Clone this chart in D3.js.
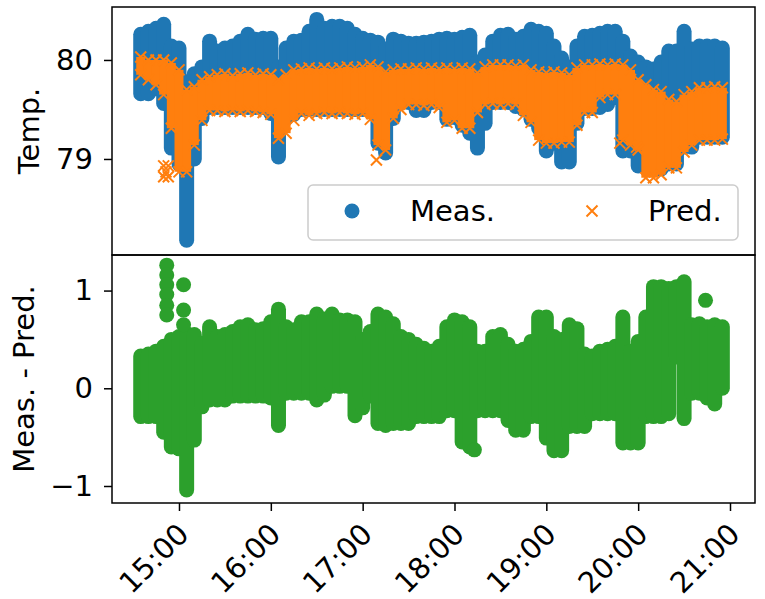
<!DOCTYPE html>
<html><head><meta charset="utf-8">
<script src="https://cdn.jsdelivr.net/npm/d3@7"></script>
<style>body{margin:0;background:#fff}</style>
</head><body>
<svg id="chart" width="765" height="599"></svg>
<script>
// ---- data (5-minute buckets: envelope of the dense scatter clouds) ----
const times = ["14:35","14:40","14:45","14:50","14:55","15:00","15:05","15:10","15:15","15:20",
"15:25","15:30","15:35","15:40","15:45","15:50","15:55","16:00","16:05","16:10",
"16:15","16:20","16:25","16:30","16:35","16:40","16:45","16:50","16:55","17:00",
"17:05","17:10","17:15","17:20","17:25","17:30","17:35","17:40","17:45","17:50",
"17:55","18:00","18:05","18:10","18:15","18:20","18:25","18:30","18:35","18:40",
"18:45","18:50","18:55","19:00","19:05","19:10","19:15","19:20","19:25","19:30",
"19:35","19:40","19:45","19:50","19:55","20:00","20:05","20:10","20:15","20:20",
"20:25","20:30","20:35","20:40","20:45","20:50","20:55"];

const measHigh = [80.26,80.29,80.32,80.36,80.14,80.12,79.78,79.86,79.93,80.19,
80.09,80.12,80.14,80.19,80.26,80.21,80.22,80.22,79.93,80.12,
80.19,80.20,80.29,80.41,80.32,80.34,80.34,80.32,80.26,80.22,
80.20,80.18,80.11,80.21,80.19,80.17,80.17,80.18,80.19,80.21,
80.22,80.21,80.23,80.25,79.98,80.05,80.19,80.25,80.26,80.21,
80.24,80.31,80.29,80.27,80.14,80.02,79.93,80.14,80.24,80.25,
80.27,80.29,80.29,80.19,80.04,79.98,79.93,79.91,79.98,80.09,
80.09,80.29,80.11,80.14,80.14,80.14,80.12];

const measLow = [79.66,79.66,79.71,79.56,79.11,78.95,78.18,79.00,79.41,79.52,
79.52,79.52,79.52,79.52,79.52,79.52,79.52,79.46,79.02,79.41,
79.45,79.50,79.50,79.50,79.50,79.50,79.50,79.50,79.50,79.50,
79.50,79.16,79.06,79.41,79.57,79.57,79.49,79.49,79.57,79.57,
79.40,79.42,79.34,79.26,79.11,79.36,79.57,79.57,79.57,79.53,
79.50,79.40,79.31,79.08,79.16,78.97,78.97,79.36,79.51,79.51,
79.52,79.55,79.62,79.08,79.08,78.93,78.93,78.90,78.90,78.95,
78.95,79.12,79.12,79.22,79.22,79.22,79.22];

const predHigh = [80.03,80.00,80.00,80.00,79.97,79.90,79.70,79.73,79.80,79.83,
79.85,79.86,79.84,79.86,79.87,79.85,79.86,79.85,79.80,79.85,
79.90,79.91,79.92,79.91,79.92,79.91,79.92,79.93,79.92,79.93,
79.95,79.93,79.88,79.90,79.91,79.91,79.92,79.91,79.92,79.91,
79.92,79.91,79.92,79.91,79.87,79.93,79.95,79.95,79.95,79.94,
79.95,79.90,79.88,79.87,79.88,79.87,79.85,79.92,79.95,79.95,
79.96,79.95,79.96,79.95,79.90,79.80,79.75,79.70,79.68,79.60,
79.58,79.65,79.68,79.72,79.72,79.73,79.72];

const predLow = [79.85,79.80,79.75,79.65,79.31,78.87,78.87,79.14,79.39,79.49,
79.49,79.48,79.49,79.48,79.49,79.48,79.47,79.45,79.21,79.26,
79.39,79.46,79.44,79.46,79.47,79.46,79.47,79.46,79.45,79.46,
79.40,79.14,79.09,79.41,79.50,79.55,79.55,79.54,79.55,79.52,
79.37,79.39,79.31,79.31,79.47,79.55,79.56,79.55,79.56,79.55,
79.44,79.37,79.19,79.16,79.16,79.17,79.17,79.34,79.47,79.47,
79.62,79.65,79.65,79.19,79.14,79.09,78.81,78.81,78.84,78.91,
78.91,79.07,79.14,79.19,79.19,79.19,79.20];

const diffHigh = [0.33,0.35,0.38,0.43,0.50,0.53,0.56,0.55,0.46,0.63,
0.53,0.55,0.58,0.63,0.65,0.60,0.61,0.68,0.81,0.63,
0.60,0.68,0.68,0.76,0.71,0.76,0.70,0.70,0.68,0.50,
0.58,0.76,0.73,0.66,0.53,0.50,0.45,0.41,0.38,0.43,
0.63,0.70,0.68,0.63,0.38,0.38,0.53,0.55,0.45,0.38,
0.40,0.48,0.73,0.73,0.53,0.50,0.65,0.61,0.35,0.33,
0.38,0.40,0.43,0.73,0.38,0.48,0.73,1.04,1.04,1.02,
1.04,1.09,0.65,0.66,0.63,0.65,0.63];

const diffLow = [-0.29,-0.29,-0.29,-0.45,-0.60,-0.62,-1.04,-0.53,-0.19,-0.12,
-0.12,-0.12,-0.08,-0.08,-0.08,-0.08,-0.08,-0.10,-0.38,-0.05,
-0.05,-0.05,-0.05,-0.12,-0.07,0.02,0.02,0.02,-0.28,-0.20,
-0.08,-0.36,-0.38,-0.36,-0.36,-0.36,-0.29,-0.29,-0.29,-0.29,
-0.23,-0.23,-0.55,-0.60,-0.23,-0.23,-0.23,-0.23,-0.33,-0.43,
-0.43,-0.29,-0.29,-0.51,-0.64,-0.64,-0.39,-0.39,-0.39,-0.26,
-0.26,-0.26,-0.26,-0.56,-0.56,-0.56,-0.29,-0.29,-0.29,-0.26,
0.32,-0.31,-0.05,-0.05,-0.10,-0.16,0.00];

// isolated points outside the envelopes
const predOutlierTimes = ["14:50:00","14:50:00","14:53:00","14:53:00","14:51:30","17:09:00","19:48:00","19:59:00"];
const predOutlierValues = [78.93,78.82,78.93,78.82,78.87,78.99,79.16,79.12];
const diffOutlierTimes = ["14:52:00","14:52:00","14:52:00","14:52:00","14:52:00","14:52:00","15:03:00","15:03:00","15:03:00","18:13:00","20:44:00"];
const diffOutlierValues = [1.26,1.16,1.06,0.96,0.85,0.75,1.06,0.80,0.65,-0.63,0.90];

const xTickLabels = ["15:00","16:00","17:00","18:00","19:00","20:00","21:00"];
const yTopTicks = [79, 80];
const yBotTicks = [-1, 0, 1];
const seriesNames = ["Meas.", "Pred."];

// ---- layout ----
const parse = s => d3.timeParse(s.length > 5 ? "%H:%M:%S" : "%H:%M")(s);
const svg = d3.select("#chart");
const L = 112, R = 755, T1 = 7, B1 = 255, T2 = 255, B2 = 503;
const FONT = "DejaVu Sans, Liberation Sans, sans-serif";
const FS = 29;
const C_BLUE = "#1f77b4", C_ORANGE = "#ff7f0e", C_GREEN = "#2ca02c";
const MR = 7.5; // circle marker radius
const XS = 5.5; // x-marker half size

const x = d3.scaleTime().domain([parse("14:16:14"), parse("21:16:20")]).range([L, R]);
const yT = d3.scaleLinear().domain([78.03, 80.535]).range([B1, T1]);
const yB = d3.scaleLinear().domain([-1.174, 1.364]).range([B2, T2]);

const defs = svg.append("defs");
defs.append("clipPath").attr("id","clipT").append("rect").attr("x",L).attr("y",T1).attr("width",R-L).attr("height",B1-T1);
defs.append("clipPath").attr("id","clipB").append("rect").attr("x",L).attr("y",T2).attr("width",R-L).attr("height",B2-T2);

const tx = times.map(parse);
const xPath = (cx, cy) => `M${cx-XS},${cy-XS}L${cx+XS},${cy+XS}M${cx-XS},${cy+XS}L${cx+XS},${cy-XS}`;

// ---- top panel ----
const gT = svg.append("g").attr("clip-path","url(#clipT)");
gT.append("g").selectAll("line").data(times).join("line")
  .attr("x1",(d,i)=>x(tx[i])).attr("x2",(d,i)=>x(tx[i]))
  .attr("y1",(d,i)=>yT(measHigh[i])).attr("y2",(d,i)=>yT(measLow[i]))
  .attr("stroke",C_BLUE).attr("stroke-width",MR*2).attr("stroke-linecap","round");

const gP = gT.append("g");
gP.selectAll("line").data(times).join("line")
  .attr("x1",(d,i)=>x(tx[i])).attr("x2",(d,i)=>x(tx[i]))
  .attr("y1",(d,i)=>yT(predHigh[i])).attr("y2",(d,i)=>yT(predLow[i]))
  .attr("stroke",C_ORANGE).attr("stroke-width",9);
gP.selectAll("path.hi").data(times).join("path").attr("class","hi")
  .attr("d",(d,i)=>xPath(x(tx[i]), yT(predHigh[i])))
  .attr("stroke",C_ORANGE).attr("stroke-width",2).attr("fill","none");
gP.selectAll("path.lo").data(times).join("path").attr("class","lo")
  .attr("d",(d,i)=>xPath(x(tx[i]), yT(predLow[i])))
  .attr("stroke",C_ORANGE).attr("stroke-width",2).attr("fill","none");
gP.selectAll("path.out").data(predOutlierTimes).join("path").attr("class","out")
  .attr("d",(d,i)=>xPath(x(parse(d)), yT(predOutlierValues[i])))
  .attr("stroke",C_ORANGE).attr("stroke-width",2).attr("fill","none");

// ---- bottom panel ----
const gB = svg.append("g").attr("clip-path","url(#clipB)");
gB.append("g").selectAll("line").data(times).join("line")
  .attr("x1",(d,i)=>x(tx[i])).attr("x2",(d,i)=>x(tx[i]))
  .attr("y1",(d,i)=>yB(diffHigh[i])).attr("y2",(d,i)=>yB(diffLow[i]))
  .attr("stroke",C_GREEN).attr("stroke-width",MR*2).attr("stroke-linecap","round");
gB.append("g").selectAll("circle").data(diffOutlierTimes).join("circle")
  .attr("cx",d=>x(parse(d))).attr("cy",(d,i)=>yB(diffOutlierValues[i]))
  .attr("r",MR).attr("fill",C_GREEN);

// ---- axes ----
function styleAxis(g){
  g.select(".domain").remove();
  g.selectAll(".tick line").attr("stroke","#000").attr("stroke-width",1.5);
  g.selectAll(".tick text").attr("font-family",FONT).attr("font-size",FS).attr("fill","#000");
}
const fmtNum = d => d < 0 ? "\u2212" + Math.abs(d) : String(d);
svg.append("g").attr("transform",`translate(${L},0)`)
  .call(d3.axisLeft(yT).tickValues(yTopTicks).tickFormat(fmtNum).tickSize(8).tickPadding(11))
  .call(styleAxis);
svg.append("g").attr("transform",`translate(${L},0)`)
  .call(d3.axisLeft(yB).tickValues(yBotTicks).tickFormat(fmtNum).tickSize(8).tickPadding(11))
  .call(styleAxis);
const xa = svg.append("g").attr("transform",`translate(0,${B2})`)
  .call(d3.axisBottom(x).tickValues(xTickLabels.map(parse)).tickFormat(d3.timeFormat("%H:%M")).tickSize(8))
  .call(styleAxis);
xa.selectAll(".tick text")
  .attr("text-anchor","end").attr("y",null).attr("dy",null)
  .attr("transform","translate(11,33) rotate(-45)");

// frames
[[T1,B1],[T2,B2]].forEach(([t,b])=>{
  svg.append("rect").attr("x",L).attr("y",t).attr("width",R-L).attr("height",b-t)
    .attr("fill","none").attr("stroke","#000").attr("stroke-width",1.5);
});

// y labels
svg.append("text").attr("transform",`translate(39,${(T1+B1)/2}) rotate(-90)`)
  .attr("text-anchor","middle").attr("font-family",FONT).attr("font-size",FS).text("Temp.");
svg.append("text").attr("transform",`translate(34,${(T2+B2)/2}) rotate(-90)`)
  .attr("text-anchor","middle").attr("font-family",FONT).attr("font-size",FS).text("Meas. - Pred.");

// legend
const lg = svg.append("g");
lg.append("rect").attr("x",308).attr("y",185).attr("width",430).attr("height",55).attr("rx",5)
  .attr("fill","#fff").attr("fill-opacity",0.8).attr("stroke","#ccc").attr("stroke-width",1.5);
lg.append("circle").attr("cx",352).attr("cy",211).attr("r",MR).attr("fill",C_BLUE);
lg.append("text").attr("x",410).attr("y",221).attr("font-family",FONT).attr("font-size",FS).text(seriesNames[0]);
lg.append("path").attr("d",xPath(592,211)).attr("stroke",C_ORANGE).attr("stroke-width",2).attr("fill","none");
lg.append("text").attr("x",648).attr("y",221).attr("font-family",FONT).attr("font-size",FS).text(seriesNames[1]);
</script>
</body></html>
